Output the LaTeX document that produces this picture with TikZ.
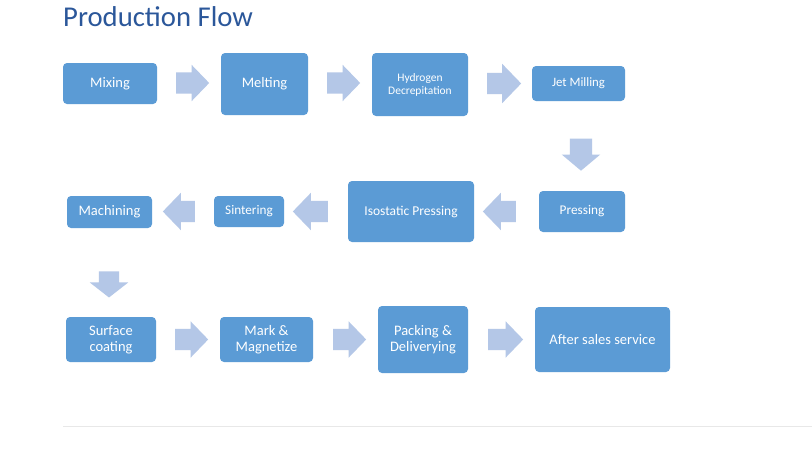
\documentclass[tikz,border=0pt]{standalone}
\usepackage{fontspec}
\setmainfont{Carlito}
\usetikzlibrary{shapes.arrows}
\definecolor{boxblue}{HTML}{5B9BD5}
\definecolor{arrowblue}{HTML}{B4C7E7}
\definecolor{titleblue}{HTML}{2B579A}
\definecolor{linegray}{HTML}{E8E8E8}
\tikzset{
  box/.style={rectangle, rounded corners=4pt, fill=boxblue, text=white, align=center,
    inner sep=0pt, font=\fontsize{14.5}{16}\selectfont},
  smallbox/.style={box, font=\fontsize{12}{13.5}\selectfont},
  blk/.style={single arrow, fill=arrowblue, draw=none, inner xsep=0pt, inner ysep=10.5pt,
    single arrow head extend=7.5pt, single arrow tip angle=92, outer sep=0pt, minimum height=33pt},
}
\begin{document}
\begin{tikzpicture}[x=1pt,y=-1pt]
\useasboundingbox[fill=white] (0,0) rectangle (812,455);
\node[anchor=base west, font=\fontsize{28.7}{30}\selectfont, text=titleblue, inner sep=0pt] (title) at (63,26) {Production Flow};
% row 1
\node[box, minimum width=94pt, minimum height=41pt] (mix) at (110,83.5) {Mixing};
\node[box, minimum width=87pt, minimum height=62pt] (melt) at (264.5,84) {Melting};
\node[smallbox, font=\fontsize{11.5}{13}\selectfont, minimum width=96pt, minimum height=63pt] (hd) at (420,84.5) {Hydrogen\\Decrepitation};
\node[smallbox, font=\fontsize{12.8}{14}\selectfont, minimum width=93pt, minimum height=35pt] (jet) at (578.5,83.5) {Jet Milling};
% row 2
\node[box, font=\fontsize{13.3}{15}\selectfont, minimum width=86pt, minimum height=41pt] (press) at (582,211.5) {Pressing};
\node[box, font=\fontsize{13.5}{15}\selectfont, minimum width=126pt, minimum height=61pt] (iso) at (411,211.5) {Isostatic Pressing};
\node[box, font=\fontsize{13.2}{15}\selectfont, minimum width=70pt, minimum height=31pt] (sint) at (249,211.5) {Sintering};
\node[box, minimum width=85pt, minimum height=32pt] (mach) at (109.5,212) {Machining};
% row 3
\node[box, minimum width=90pt, minimum height=45pt] (surf) at (111,339.5) {Surface\\coating};
\node[box, minimum width=93pt, minimum height=45pt] (mark) at (266.5,339.5) {Mark \&\\Magnetize};
\node[box, minimum width=90pt, minimum height=67pt] (pack) at (423,339.5) {Packing \&\\Deliverying};
\node[box, minimum width=135pt, minimum height=65pt] (after) at (602.5,339.5) {After sales service};
% block arrows
\node[blk] (a1) at (187.5,83) {};
\node[blk] (a2) at (338.5,83) {};
\node[blk, minimum height=34pt, single arrow head extend=9pt] (a3) at (499,83.5) {};
\node[blk, rotate=-90, minimum height=32pt, inner ysep=11pt, single arrow head extend=8pt, single arrow tip angle=100] (a4) at (581,150) {};
\node[blk, rotate=180, single arrow head extend=8pt] (a5) at (504.5,211.5) {};
\node[blk, rotate=180, minimum height=35pt, single arrow head extend=8pt] (a6) at (315.5,211.5) {};
\node[blk, rotate=180, minimum height=32pt, single arrow head extend=8pt] (a7) at (184,211.5) {};
\node[blk, rotate=-90, minimum height=26pt, inner ysep=10pt, single arrow head extend=9pt, single arrow tip angle=104] (a8) at (109,280.5) {};
\node[blk] (a9) at (186.5,339.5) {};
\node[blk] (a10) at (344.5,339.5) {};
\node[blk, minimum height=35pt] (a11) at (500.5,339.5) {};
% bottom rule
\coordinate (l1) at (63,426);
\coordinate (l2) at (812,426);
\draw[linegray, line width=0.8pt] (l1) -- (l2);
\end{tikzpicture}
\end{document}
